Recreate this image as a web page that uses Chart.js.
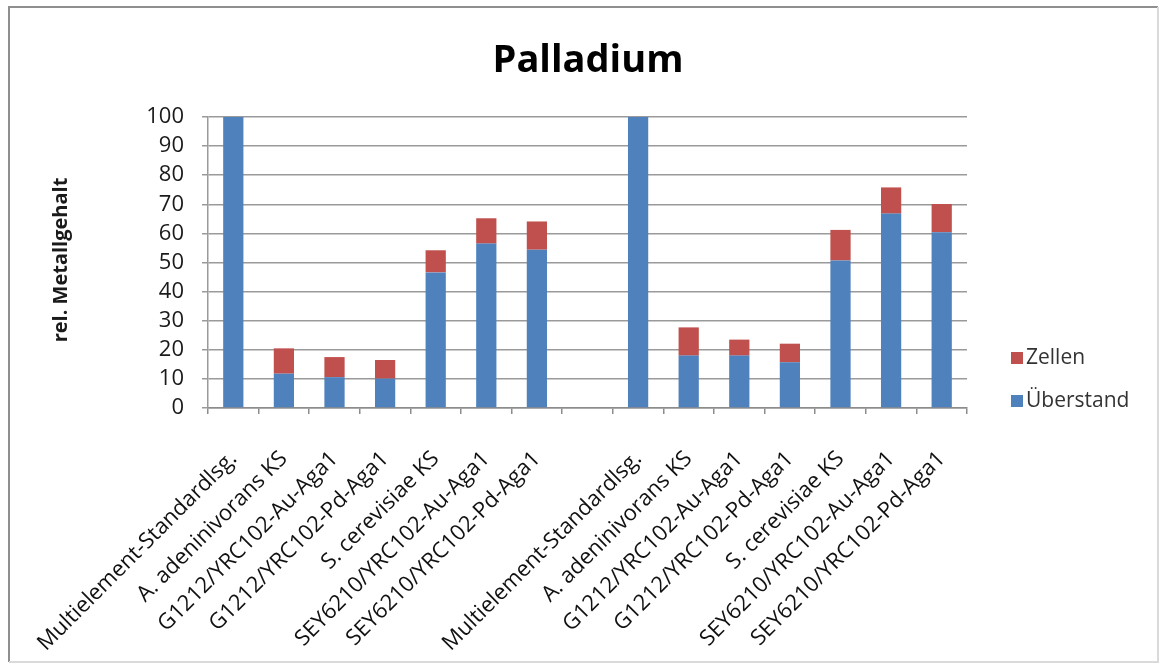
<!DOCTYPE html>
<html>
<head>
<meta charset="utf-8">
<script src="https://cdn.jsdelivr.net/npm/chart.js@4"></script>
<style>
  html, body { margin: 0; padding: 0; background: #ffffff; }
  #wrap { width: 1161px; height: 664px; }
</style>
</head>
<body>
<div id="wrap"><canvas id="c" width="1161" height="664"></canvas></div>
<script>
// Stamm / Probe names: two blocks of seven, separated by an empty slot
const categories = [
  'Multielement-Standardlsg.', 'A. adeninivorans KS', 'G1212/YRC102-Au-Aga1',
  'G1212/YRC102-Pd-Aga1', 'S. cerevisiae KS', 'SEY6210/YRC102-Au-Aga1',
  'SEY6210/YRC102-Pd-Aga1',
  '',
  'Multielement-Standardlsg.', 'A. adeninivorans KS', 'G1212/YRC102-Au-Aga1',
  'G1212/YRC102-Pd-Aga1', 'S. cerevisiae KS', 'SEY6210/YRC102-Au-Aga1',
  'SEY6210/YRC102-Pd-Aga1'
];

// relative metal content in the supernatant (bottom segment)
const ueberstand = [100, 11.8, 10.6, 10.1, 46.6, 56.5, 54.4, null, 100, 18.0, 18.0, 15.7, 50.7, 66.8, 60.4];
// relative metal content bound to cells (top segment)
const zellen = [0, 8.7, 6.9, 6.4, 7.6, 8.7, 9.7, null, 0, 9.7, 5.5, 6.4, 10.5, 9.0, 9.7];

const yTicks = [0, 10, 20, 30, 40, 50, 60, 70, 80, 90, 100];
const seriesNames = ['Überstand', 'Zellen'];
const chartTitle = 'Palladium';
const yAxisTitle = 'rel. Metallgehalt';

const BLUE = '#4f81bd';
const RED = '#c0504d';
const FONT = '"Open Sans", Lato, sans-serif';

// Title, axis title, legend and outer frame
const decorations = {
  id: 'decorations',
  afterDraw(chart) {
    const ctx = chart.ctx;
    ctx.save();

    // frame
    ctx.lineWidth = 2;
    ctx.strokeStyle = '#8f8f8f';
    ctx.beginPath();
    ctx.moveTo(9, 662); ctx.lineTo(9, 7); ctx.lineTo(1158, 7);
    ctx.stroke();
    ctx.strokeStyle = '#dadada';
    ctx.beginPath();
    ctx.moveTo(1158, 7); ctx.lineTo(1158, 662); ctx.lineTo(9, 662);
    ctx.stroke();

    // chart title
    ctx.fillStyle = '#000000';
    ctx.font = 'bold 38px ' + FONT;
    ctx.textAlign = 'center';
    ctx.textBaseline = 'alphabetic';
    ctx.fillText(chartTitle, 588, 72);

    // y axis title
    ctx.save();
    ctx.translate(67, 260);
    ctx.rotate(-Math.PI / 2);
    ctx.font = 'bold 20px ' + FONT;
    ctx.fillStyle = '#1a1a1a';
    ctx.fillText(yAxisTitle, 0, 0);
    ctx.restore();

    // legend (top segment listed first)
    const legendItems = [
      { label: chart.data.datasets[1].label, color: chart.data.datasets[1].backgroundColor, y: 364 },
      { label: chart.data.datasets[0].label, color: chart.data.datasets[0].backgroundColor, y: 407 }
    ];
    ctx.font = '21px ' + FONT;
    ctx.textAlign = 'left';
    legendItems.forEach(it => {
      ctx.fillStyle = it.color;
      ctx.fillRect(1011, it.y - 12, 12, 12);
      ctx.fillStyle = '#333333';
      ctx.fillText(it.label, 1026, it.y);
    });

    ctx.restore();
  }
};

new Chart(document.getElementById('c'), {
  type: 'bar',
  data: {
    labels: categories,
    datasets: [
      { label: seriesNames[0], data: ueberstand, backgroundColor: BLUE, borderWidth: 0,
        barPercentage: 0.8, categoryPercentage: 0.5 },
      { label: seriesNames[1], data: zellen, backgroundColor: RED, borderWidth: 0,
        barPercentage: 0.8, categoryPercentage: 0.5 }
    ]
  },
  options: {
    responsive: false,
    devicePixelRatio: 1,
    animation: false,
    layout: { padding: { left: 0, top: 117, right: 194, bottom: 6 } },
    plugins: {
      legend: { display: false },
      title: { display: false },
      tooltip: { enabled: false }
    },
    scales: {
      x: {
        stacked: true,
        grid: { offset: true, drawOnChartArea: false, drawTicks: true, tickLength: 6, color: '#8c8c8c', lineWidth: 1.5 },
        border: { color: '#8c8c8c', width: 1.5 },
        ticks: {
          autoSkip: false, maxRotation: 45, minRotation: 45, padding: 32,
          color: '#111111', font: { family: FONT, size: 22 }
        },
        afterFit(scale) { scale.height = 250; }
      },
      y: {
        stacked: true,
        min: 0, max: 100,
        afterBuildTicks(scale) { scale.ticks = yTicks.map(v => ({ value: v })); },
        grid: { color: '#9a9a9a', lineWidth: 1.5, tickLength: 6, drawTicks: true },
        border: { color: '#9a9a9a', width: 1.5 },
        ticks: { autoSkip: false, padding: 18, color: '#1a1a1a', font: { family: FONT, size: 22 } },
        afterFit(scale) { scale.width = 208; }
      }
    }
  },
  plugins: [decorations]
});
</script>
</body>
</html>
